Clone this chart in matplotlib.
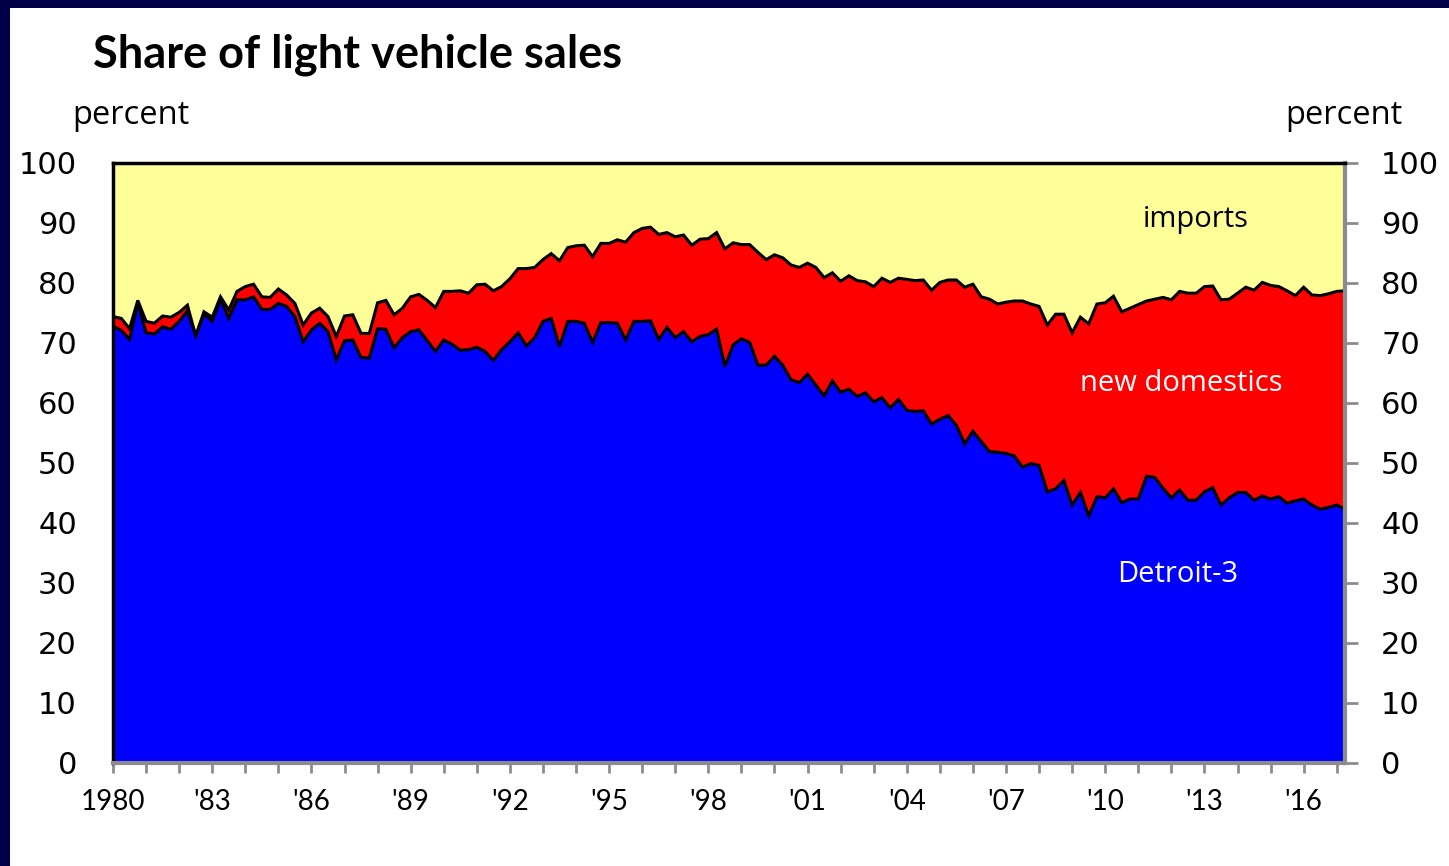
#!/usr/bin/env python3
"""
Share of light vehicle sales: Detroit-3, new domestics and imports (quarterly, stacked).
"""
import numpy as np
import matplotlib.pyplot as plt
from matplotlib.patches import Rectangle

# =============================================================================
# Data (percent, quarterly 1980Q1 .. 2017Q2)
# =============================================================================

START_YEAR = 1980

# Detroit-3 share
detroit3 = [
    72.8, 72.1, 70.6, 76.7, 71.7, 71.5, 72.7, 72.3, 73.6, 75.4,   # 1980-82
    71.2, 74.8, 73.6, 77.3, 74.1, 77.2, 77.2, 77.7, 75.6, 75.6,   # 1982-84
    76.6, 76.1, 74.4, 70.2, 72.2, 73.3, 71.9, 67.2, 70.4, 70.5,   # 1985-87
    67.6, 67.5, 72.4, 72.3, 69.2, 70.9, 71.9, 72.2, 70.4, 68.6,   # 1987-89
    70.5, 69.8, 68.8, 68.9, 69.3, 68.6, 67.1, 68.9, 70.2, 71.7,   # 1990-92
    69.5, 70.9, 73.6, 74.1, 69.4, 73.6, 73.6, 73.3, 70.1, 73.4,   # 1992-94
    73.4, 73.3, 70.5, 73.6, 73.6, 73.7, 70.6, 72.6, 70.9, 71.9,   # 1995-97
    70.2, 71.1, 71.4, 72.3, 66.1, 69.7, 70.7, 70.1, 66.3, 66.3,   # 1997-99
    67.8, 66.3, 63.9, 63.4, 64.8, 63.0, 61.2, 63.7, 61.8, 62.3,   # 2000-02
    61.1, 61.7, 60.2, 60.9, 59.2, 60.6, 58.8, 58.6, 58.7, 56.5,   # 2002-04
    57.3, 57.9, 56.3, 53.2, 55.3, 53.6, 51.9, 51.8, 51.6, 51.2,   # 2005-07
    49.3, 49.9, 49.6, 45.2, 45.7, 47.1, 43.0, 45.1, 41.2, 44.4,   # 2007-09
    44.2, 45.7, 43.4, 44.0, 44.0, 47.8, 47.6, 45.8, 44.2, 45.5,   # 2010-12
    43.8, 43.8, 45.2, 45.9, 43.0, 44.2, 45.1, 45.1, 43.8, 44.5,   # 2012-14
    44.0, 44.4, 43.3, 43.7, 44.0, 43.0, 42.3, 42.6, 43.0, 42.3,   # 2015-17
]

# Detroit-3 plus new domestics (everything below the imports band)
domestic_total = [
    74.4, 74.1, 72.4, 77.1, 73.6, 73.3, 74.5, 74.3, 75.1, 76.3,
    71.2, 75.2, 74.3, 77.7, 75.5, 78.6, 79.4, 79.8, 77.7, 77.6,
    79.0, 78.0, 76.6, 73.0, 75.0, 75.8, 74.4, 71.1, 74.5, 74.7,
    71.6, 71.6, 76.7, 77.1, 74.7, 75.8, 77.7, 78.1, 77.1, 75.9,
    78.6, 78.6, 78.7, 78.3, 79.7, 79.8, 78.7, 79.4, 80.7, 82.4,
    82.4, 82.6, 83.9, 84.9, 83.7, 85.9, 86.2, 86.3, 84.4, 86.6,
    86.6, 87.2, 86.8, 88.4, 89.1, 89.3, 88.1, 88.4, 87.7, 88.0,
    86.3, 87.3, 87.4, 88.4, 85.7, 86.7, 86.4, 86.4, 85.1, 83.9,
    84.7, 84.2, 83.0, 82.6, 83.3, 82.6, 80.9, 81.7, 80.3, 81.2,
    80.4, 80.2, 79.4, 80.8, 80.1, 80.8, 80.6, 80.4, 80.5, 78.8,
    80.1, 80.5, 80.5, 79.3, 79.8, 77.7, 77.3, 76.5, 76.8, 77.0,
    77.0, 76.5, 76.1, 73.0, 74.8, 74.8, 71.7, 74.3, 73.2, 76.5,
    76.7, 77.8, 75.2, 75.8, 76.4, 77.0, 77.3, 77.6, 77.2, 78.6,
    78.3, 78.3, 79.4, 79.5, 77.2, 77.3, 78.3, 79.3, 78.8, 80.1,
    79.6, 79.4, 78.7, 77.9, 79.3, 78.0, 77.9, 78.2, 78.6, 78.7,
]

label_years = list(range(1980, 2017, 3))
label_text = ["1980"] + [f"'{y % 100:02d}" for y in label_years[1:]]

# =============================================================================
# Figure
# =============================================================================

W, H = 1449, 866
fig = plt.figure(figsize=(W / 100, H / 100), dpi=100)
fig.patch.set_facecolor("#000048")
fig.add_artist(Rectangle((10 / W, 0), 1, 1 - 8 / H, transform=fig.transFigure,
                         facecolor="white", edgecolor="none", zorder=0))

ax = fig.add_axes([113 / W, 1 - 763 / H, (1345 - 113) / W, (763 - 163) / H])

t = START_YEAR + np.arange(len(detroit3)) / 4
d3 = np.array(detroit3)
tot = np.array(domestic_total)

ax.fill_between(t, 0, d3, color="#0000FF", linewidth=0)
ax.fill_between(t, d3, tot, color="#FF0000", linewidth=0)
ax.fill_between(t, tot, 100, color="#FFFF99", linewidth=0)
ax.plot(t, d3, color="black", linewidth=2.2, solid_joinstyle="miter")
ax.plot(t, tot, color="black", linewidth=2.2, solid_joinstyle="miter")

ax.set_xlim(t[0], t[-1])
ax.set_ylim(0, 100)

for side in ["top", "left"]:
    ax.spines[side].set_color("black")
    ax.spines[side].set_linewidth(2.5)
for side in ["right", "bottom"]:
    ax.spines[side].set_color("#8c8c8c")
    ax.spines[side].set_linewidth(3)

ax.set_yticks(range(0, 101, 10))
ax.tick_params(axis="y", left=False, right=True, labelleft=True, labelright=True,
               direction="out", length=9, width=2, color="#8c8c8c", pad=17,
               labelsize=22)
for lab in ax.get_yticklabels():
    lab.set_fontfamily("DejaVu Sans")

ax.set_xticks(range(1980, 2018), minor=True)
ax.set_xticks(label_years)
ax.set_xticklabels(label_text, fontfamily="Lato", fontsize=20)
ax.tick_params(axis="x", which="both", direction="out", length=7, width=2,
               color="#8c8c8c", pad=12)

# series labels inside the areas
ax.text(2012.75, 90.5, "imports", ha="center", va="center", fontsize=21,
        fontfamily="Open Sans", color="black")
ax.text(2012.3, 63.3, "new domestics", ha="center", va="center", fontsize=21,
        fontfamily="Open Sans", color="white")
ax.text(2012.2, 31.5, "Detroit-3", ha="center", va="center", fontsize=21,
        fontfamily="Open Sans", color="white")

fig.text(93 / W, 1 - 55 / H, "Share of light vehicle sales", ha="left", va="center",
         fontsize=32.5, fontweight="bold", fontfamily="Lato")
fig.text(72 / W, 1 - 116 / H, "percent", ha="left", va="center", fontsize=23.5,
         fontfamily="Open Sans")
fig.text(1402 / W, 1 - 116 / H, "percent", ha="right", va="center", fontsize=23.5,
         fontfamily="Open Sans")

fig.savefig("out.png", dpi=100, facecolor=fig.get_facecolor())
